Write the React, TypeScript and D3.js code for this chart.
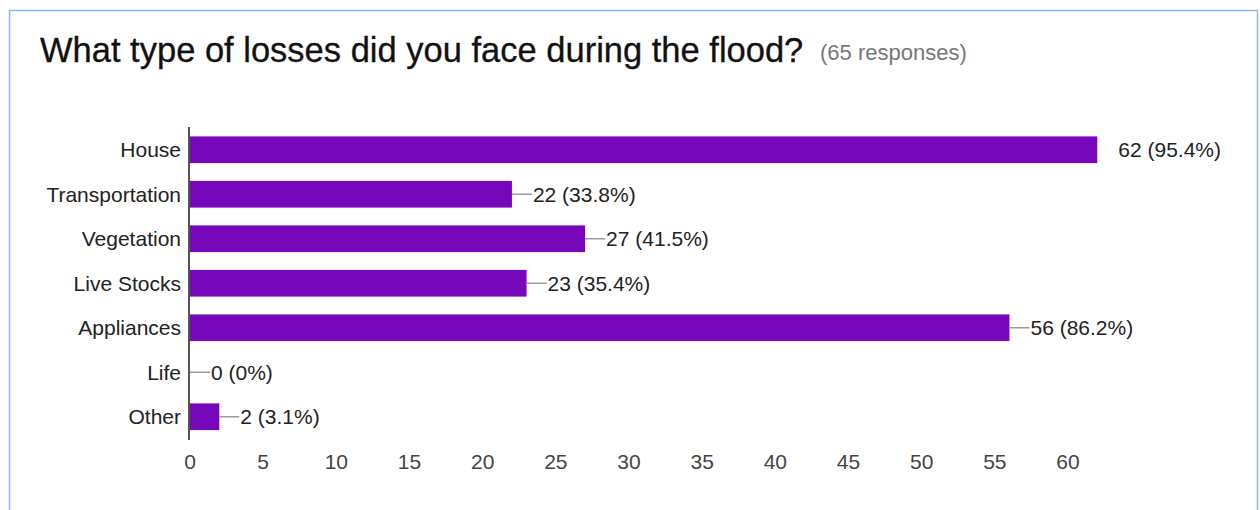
import React from "react";
import * as d3 from "d3";

const categories = ["House", "Transportation", "Vegetation", "Live Stocks", "Appliances", "Life", "Other"];
const counts = [62, 22, 27, 23, 56, 0, 2];
const percents = ["95.4%", "33.8%", "41.5%", "35.4%", "86.2%", "0%", "3.1%"];
const xTicks = [0, 5, 10, 15, 20, 25, 30, 35, 40, 45, 50, 55, 60];
const title = "What type of losses did you face during the flood?";
const subtitle = "(65 responses)";

export default function App() {
  const W = 1260, H = 510;
  const x = d3.scaleLinear().domain([0, 60]).range([190, 1068]);
  const y = d3.scaleBand<string>().domain(categories).range([127.5, 439]).paddingInner(0.4).paddingOuter(0.2);
  const maxV = d3.max(counts) as number;
  const font = "'Liberation Sans', Arial, sans-serif";
  return (
    <svg width={W} height={H} style={{ position: "absolute", left: 0, top: 0, background: "#fff" }}>
      <rect x={9.5} y={10.5} width={1248} height={H} fill="none" stroke="#8fb4ea" strokeWidth={1.5} />
      <text x={40} y={62} fontFamily={font} fontSize={34.5} fill="#111" stroke="#111" strokeWidth={0.3}>{title}</text>
      <text x={820} y={60} fontFamily={font} fontSize={22} fill="#777">{subtitle}</text>
      {categories.map((c, i) => {
        const yc = (y(c) as number) + y.bandwidth() / 2;
        const x1 = x(counts[i]);
        const tx = x1 + 20;
        return (
          <g key={c}>
            <rect x={x(0)} y={y(c)} width={x1 - x(0)} height={y.bandwidth()} fill="#7607bb" />
            {counts[i] < maxV && (
              <line x1={x1} x2={tx} y1={yc} y2={yc} stroke="#9a9a9a" strokeWidth={1.5} />
            )}
            <text x={tx + 1} y={yc} dy="0.35em" fontFamily={font} fontSize={21} fill="#222">
              {`${counts[i]} (${percents[i]})`}
            </text>
            <text x={181} y={yc} dy="0.35em" textAnchor="end" fontFamily={font} fontSize={21} fill="#222">{c}</text>
          </g>
        );
      })}
      <line x1={189} x2={189} y1={127} y2={440} stroke="#555" strokeWidth={2} />
      {xTicks.map((t) => (
        <text key={t} x={x(t)} y={462} dy="0.35em" textAnchor="middle" fontFamily={font} fontSize={21} fill="#444">{t}</text>
      ))}
    </svg>
  );
}
